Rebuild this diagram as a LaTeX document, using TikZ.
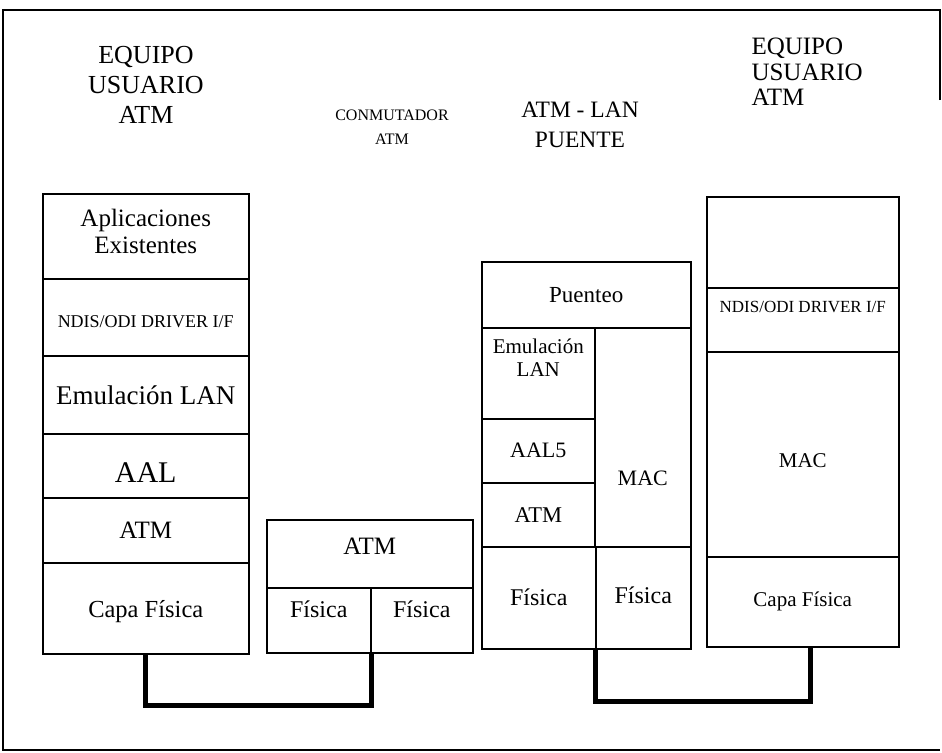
\documentclass[tikz,border=0pt]{standalone}
\usepackage{fontspec}
\setmainfont{Liberation Serif}
\usetikzlibrary{positioning}

\begin{document}
\begin{tikzpicture}[x=1pt,y=-1pt,
  layer/.style={draw,line width=1.5pt,anchor=north west,inner sep=0pt,align=center},
  head/.style={align=center,font=\fontsize{26}{30}\selectfont},
  link/.style={line width=5pt}]
  \useasboundingbox (0,0) rectangle (942,752);
  % marco
  \draw[line width=1.6pt] (940,100) -- (940,10) -- (3,10) -- (3,750) -- (940,750);
  % titulos
  \node[head] (hUserA) at (146,85) {EQUIPO\\USUARIO\\ATM};
  \node[head,font=\fontsize{16}{24}\selectfont] (hSwitch) at (392,127) {CONMUTADOR\\ATM};
  \node[head,font=\fontsize{23.5}{30}\selectfont] (hBridge) at (580,125) {ATM - LAN\\PUENTE};
  \node[head,align=left,anchor=west,font=\fontsize{25}{25.5}\selectfont] (hUserB) at (748,72) {EQUIPO\\USUARIO\\ATM};
  % equipo usuario ATM (izquierda)
  \node[layer,minimum width=206,minimum height=85,text depth=10pt,font=\fontsize{25}{27}\selectfont] (lApp) at (42,193) {Aplicaciones\\Existentes};
  \node[layer,minimum width=206,minimum height=77,text height=21pt,font=\fontsize{18}{20}\selectfont] (lNdis) at (42,278) {NDIS/ODI DRIVER I/F};
  \node[layer,minimum width=206,minimum height=78,font=\fontsize{27}{30}\selectfont] (lEmu) at (42,355) {Emulación LAN};
  \node[layer,minimum width=206,minimum height=64,text height=34pt,font=\fontsize{30}{32}\selectfont] (lAal) at (42,433) {AAL};
  \node[layer,minimum width=206,minimum height=65,font=\fontsize{25}{27}\selectfont] (lAtm) at (42,497) {ATM};
  \node[layer,minimum width=206,minimum height=91,text height=24pt,font=\fontsize{24.5}{27}\selectfont] (lCapa) at (42,562) {Capa Física};
  % conmutador ATM
  \node[layer,minimum width=206,minimum height=68,text depth=16pt,font=\fontsize{25}{27}\selectfont] (sAtm) at (266,519) {ATM};
  \node[layer,minimum width=104,minimum height=65,text depth=22pt,font=\fontsize{24}{27}\selectfont] (sFisA) at (266,587) {Física};
  \node[layer,minimum width=102,minimum height=65,text depth=22pt,font=\fontsize{24}{27}\selectfont] (sFisB) at (370,587) {Física};
  % puente ATM - LAN
  \node[layer,minimum width=209,minimum height=66,font=\fontsize{23}{26}\selectfont] (bPuente) at (481,261) {Puenteo};
  \node[layer,minimum width=113,minimum height=91] (bEmu) at (481,327) {};
  \node[font=\fontsize{21}{23}\selectfont,align=center,below=8pt of bEmu.north] (bEmuTxt) {Emulación\\LAN};
  \node[layer,minimum width=113,minimum height=64,font=\fontsize{22}{25}\selectfont] (bAal) at (481,418) {AAL5};
  \node[layer,minimum width=113,minimum height=64,font=\fontsize{22.5}{25}\selectfont] (bAtm) at (481,482) {ATM};
  \node[layer,minimum width=96,minimum height=219] (bMac) at (594,327) {};
  \node[font=\fontsize{22}{25}\selectfont] (bMacTxt) at ([yshift=-41]bMac.center) {MAC};
  \node[layer,minimum width=114,minimum height=102,font=\fontsize{24}{27}\selectfont] (bFisA) at (481,546) {Física};
  \node[layer,minimum width=95,minimum height=102,text depth=5pt,font=\fontsize{24}{27}\selectfont] (bFisB) at (595,546) {Física};
  % equipo usuario ATM (derecha)
  \node[layer,minimum width=192,minimum height=91] (rTop) at (706,196) {};
  \node[layer,minimum width=192,minimum height=64,text depth=26pt,font=\fontsize{17}{20}\selectfont] (rNdis) at (706,287) {NDIS/ODI DRIVER I/F};
  \node[layer,minimum width=192,minimum height=205,text height=26pt,font=\fontsize{21}{24}\selectfont] (rMac) at (706,351) {MAC};
  \node[layer,minimum width=192,minimum height=90,font=\fontsize{21}{24}\selectfont] (rCapa) at (706,556) {Capa Física};
  % enlaces fisicos
  \draw[link] (lCapa.south) -- ++(0,51) -| (sFisA.south east);
  \draw[link] (bFisB.south west) -- ++(0,52) -| ([xshift=8]rCapa.south);
\end{tikzpicture}
\end{document}
